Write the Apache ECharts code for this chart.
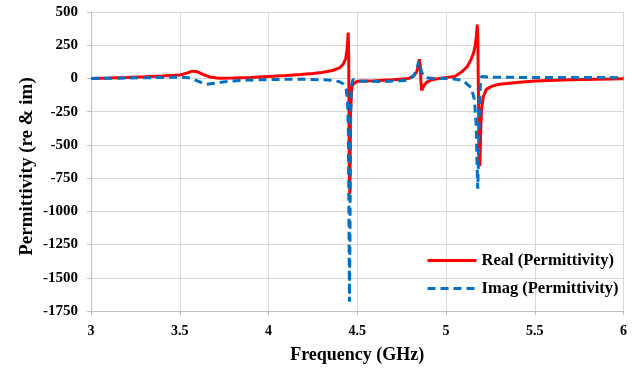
<!DOCTYPE html>
<html>
<head>
<meta charset="utf-8">
<script src="https://cdn.jsdelivr.net/npm/echarts@6/dist/echarts.min.js"></script>
<style>
html,body{margin:0;padding:0;background:#fff;}
#chart{width:638px;height:369px;}
</style>
</head>
<body>
<div id="chart"></div>
<script>
var xTicks = [3, 3.5, 4, 4.5, 5, 5.5, 6];
var yTicks = [500, 250, 0, -250, -500, -750, -1000, -1250, -1500, -1750];

var realFreq = [3.00,3.10,3.20,3.30,3.40,3.50,3.54,3.57,3.60,3.63,3.67,3.72,3.80,3.90,4.00,4.10,4.18,4.25,4.30,4.36,4.40,4.42,4.435,4.442,4.447,4.449,4.452,4.455,4.458,4.462,4.47,4.48,4.50,4.60,4.70,4.79,4.82,4.835,4.845,4.850,4.855,4.859,4.863,4.868,4.875,4.89,4.92,4.96,5.00,5.05,5.09,5.12,5.14,5.155,5.165,5.172,5.176,5.179,5.183,5.187,5.191,5.195,5.20,5.21,5.227,5.26,5.30,5.40,5.50,5.70,6.00];
var realVal  = [0,3,7,12,18,26,40,55,50,30,11,2,3,8,15,22,30,38,45,60,80,105,150,210,300,345,150,-700,-870,-250,-60,-40,-22,-18,-10,0,20,50,100,145,100,-30,-90,-80,-55,-30,-10,0,8,15,50,90,140,190,250,330,405,330,-150,-550,-660,-420,-230,-140,-82,-58,-44,-30,-20,-10,-3];

var imagFreq = [3.00,3.20,3.40,3.50,3.55,3.58,3.62,3.65,3.70,3.78,3.90,4.00,4.18,4.30,4.36,4.40,4.42,4.437,4.445,4.450,4.453,4.456,4.459,4.462,4.466,4.476,4.50,4.64,4.79,4.82,4.835,4.847,4.855,4.862,4.875,4.89,4.93,5.02,5.095,5.142,5.16,5.17,5.175,5.179,5.183,5.188,5.194,5.20,5.25,5.40,5.60,6.00];
var imagVal  = [0,3,7,10,5,-8,-30,-44,-35,-20,-12,-9,-5,-10,-14,-25,-40,-80,-150,-400,-1000,-1680,-1200,-400,-60,-8,-18,-24,-14,25,70,130,100,50,15,5,-1,0,-14,-69,-157,-350,-650,-830,-600,-250,-30,14,10,8,7,6];

var seriesNames = ['Real (Permittivity)', 'Imag (Permittivity)'];

function pairs(xs, ys){ return xs.map(function(x,i){ return [x, ys[i]]; }); }

var FONT = 'Liberation Serif';
var chart = echarts.init(document.getElementById('chart'), null, {renderer:'canvas'});
chart.setOption({
  animation: false,
  backgroundColor: '#ffffff',
  grid: {left: 91, right: 14.5, top: 12, bottom: 58},
  legend: {
    orient: 'vertical',
    left: 421, top: 247,
    itemWidth: 49, itemHeight: 14, itemGap: 11,
    itemStyle: {opacity: 0},
    lineStyle: {width: 3},
    textStyle: {fontFamily: FONT, fontWeight: 'bold', fontSize: 16.5, color: '#000'},
    data: seriesNames
  },
  xAxis: {
    type: 'value', min: 3, max: 6, interval: 0.5,
    name: 'Frequency (GHz)', nameLocation: 'middle', nameGap: 35, nameMoveOverlap: false,
    nameTextStyle: {fontFamily: FONT, fontWeight: 'bold', fontSize: 18, color: '#000'},
    axisLine: {show: true, onZero: false, lineStyle: {color: '#bfbfbf', width: 1}},
    axisTick: {show: true, length: 4, lineStyle: {color: '#bfbfbf'}},
    axisLabel: {fontFamily: FONT, fontWeight: 'bold', fontSize: 14, color: '#000', margin: 13,
      formatter: function(v){ return String(v); }},
    splitLine: {show: true, lineStyle: {color: '#d9d9d9', width: 1}}
  },
  yAxis: {
    type: 'value', min: -1750, max: 500, interval: 250,
    name: 'Permittivity (re & im)', nameLocation: 'middle', nameGap: 54, nameMoveOverlap: false,
    nameTextStyle: {fontFamily: FONT, fontWeight: 'bold', fontSize: 19, color: '#000', padding: [0, 10, 0, 0]},
    axisLine: {show: true, lineStyle: {color: '#bfbfbf', width: 1}},
    axisTick: {show: true, length: 4, lineStyle: {color: '#bfbfbf'}},
    axisLabel: {fontFamily: FONT, fontWeight: 'bold', fontSize: 15, color: '#000', margin: 13,
      formatter: function(v){ return String(v); }},
    splitLine: {show: true, lineStyle: {color: '#d9d9d9', width: 1}}
  },
  series: [
    {
      name: seriesNames[0], type: 'line', showSymbol: false, symbol: 'none',
      data: pairs(realFreq, realVal),
      lineStyle: {color: '#ff0000', width: 3},
      itemStyle: {color: '#ff0000'},
      z: 2
    },
    {
      name: seriesNames[1], type: 'line', showSymbol: false, symbol: 'none',
      data: pairs(imagFreq, imagVal),
      lineStyle: {color: '#0070c0', width: 3, type: [8, 5]},
      itemStyle: {color: '#0070c0'},
      z: 3
    }
  ]
});
</script>
</body>
</html>
